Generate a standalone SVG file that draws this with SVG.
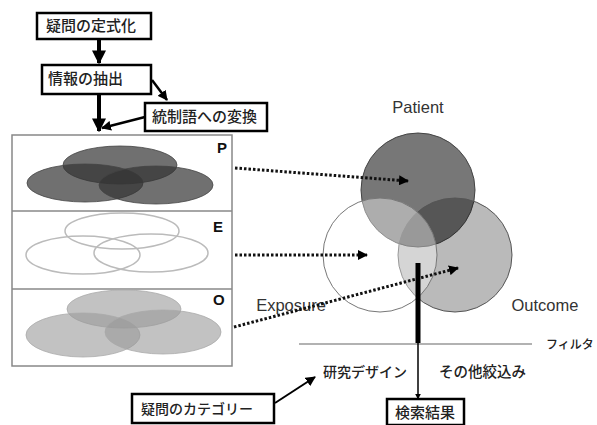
<svg xmlns="http://www.w3.org/2000/svg" width="597" height="425" viewBox="0 0 597 425">
<defs>
<style>
.box{fill:#fff;stroke:#000;stroke-width:2.5}
.jp{font-family:"Noto Sans CJK JP","Noto Sans CJK SC",sans-serif;font-size:15px;fill:#222;font-weight:500}
.en{font-family:"Liberation Sans",Arial,sans-serif;font-size:16.5px;fill:#333}
.lbl{font-family:"Liberation Sans",Arial,sans-serif;font-size:15px;font-weight:bold;fill:#111}
.solid{stroke:#000;fill:none}
.dot{stroke:#111;stroke-width:3;stroke-dasharray:2.5 2;fill:none}
.pe{fill:#333;fill-opacity:0.7;stroke:#444;stroke-width:0.8}
.ee{fill:none;stroke:#bbb;stroke-width:1.5}
.oe{fill:#999;fill-opacity:0.6;stroke:#aaa;stroke-width:0.8}
</style>
<marker id="ah" viewBox="0 0 10 10" refX="9" refY="5" markerWidth="10" markerHeight="10" markerUnits="userSpaceOnUse" orient="auto"><path d="M0,0 L10,5 L0,10 z" fill="#000"/></marker>
<marker id="ahb" viewBox="0 0 10 10" refX="9" refY="5" markerWidth="14" markerHeight="16" markerUnits="userSpaceOnUse" orient="auto"><path d="M0,0 L10,5 L0,10 z" fill="#000"/></marker>
<marker id="ahs" viewBox="0 0 10 10" refX="9" refY="5" markerWidth="6" markerHeight="6" markerUnits="userSpaceOnUse" orient="auto"><path d="M0,0 L10,5 L0,10 z" fill="#000"/></marker>
</defs>
<rect width="597" height="425" fill="#fff"/>

<g id="panel">
<rect x="12" y="135" width="220" height="231" fill="#fff" stroke="#888" stroke-width="1.5"/>
<line x1="12" y1="211" x2="232" y2="211" stroke="#888" stroke-width="1.5"/>
<line x1="12" y1="289" x2="232" y2="289" stroke="#888" stroke-width="1.5"/>
</g>
<g id="P-set">
<ellipse class="pe" cx="120" cy="165" rx="57" ry="19"/>
<ellipse class="pe" cx="85" cy="183" rx="58" ry="19"/>
<ellipse class="pe" cx="156" cy="185" rx="57" ry="19"/>
<text class="lbl" x="217" y="153">P</text>
</g>
<g id="E-set">
<ellipse class="ee" cx="122" cy="231" rx="57" ry="18"/>
<ellipse class="ee" cx="83" cy="255" rx="57" ry="19"/>
<ellipse class="ee" cx="151" cy="253" rx="57" ry="19"/>
<text class="lbl" x="213" y="232">E</text>
</g>
<g id="O-set">
<ellipse class="oe" cx="124" cy="309" rx="57" ry="19"/>
<ellipse class="oe" cx="83" cy="335" rx="57" ry="22"/>
<ellipse class="oe" cx="163" cy="332" rx="58" ry="22"/>
<text class="lbl" x="213" y="305">O</text>
</g>

<g id="venn">
<circle id="patient" cx="418" cy="190" r="57" fill="#777" stroke="#444" stroke-width="1"/>
<circle id="outcome" cx="455" cy="255" r="57" fill="#000" fill-opacity="0.27" stroke="#555" stroke-width="1"/>
<circle id="exposure" cx="380" cy="255" r="57" fill="#fff" fill-opacity="0.4" stroke="#777" stroke-width="1"/>
<text class="en" x="418" y="113" text-anchor="middle">Patient</text>
<text class="en" x="291" y="311" text-anchor="middle">Exposure</text>
<text class="en" x="545" y="311" text-anchor="middle">Outcome</text>
</g>

<g id="n1"><rect class="box" x="37" y="13" width="114" height="26"/><text class="jp" x="46" y="31">疑問の定式化</text></g>
<g id="n2"><rect class="box" x="42" y="65" width="109" height="29"/><text class="jp" x="48" y="84">情報の抽出</text></g>
<g id="n3"><rect class="box" x="145" y="103" width="122" height="28"/><text class="jp" x="152" y="122">統制語への変換</text></g>
<g id="n4"><rect class="box" x="132" y="394" width="142" height="29"/><text class="jp" x="141" y="414" style="font-size:14px">疑問のカテゴリー</text></g>
<g id="n5"><rect class="box" x="387" y="399" width="77" height="26"/><text class="jp" x="425" y="418" text-anchor="middle">検索結果</text></g>
<g id="filter">
<line x1="299" y1="344" x2="532" y2="344" stroke="#999" stroke-width="1.5"/>
<text class="jp" x="546" y="349" style="font-size:12px">フィルタ</text>
<text class="jp" x="323" y="377" style="font-size:14px">研究デザイン</text>
<text class="jp" x="439" y="377" style="font-size:14.5px">その他絞込み</text>
</g>

<g id="connectors">
<line class="solid" x1="99" y1="39" x2="99" y2="63" stroke-width="4" marker-end="url(#ahb)"/>
<line class="solid" x1="99" y1="94" x2="99" y2="131" stroke-width="4" marker-end="url(#ahb)"/>
<line class="solid" x1="152" y1="80" x2="167" y2="100" stroke-width="2.5" marker-end="url(#ah)"/>
<line class="solid" x1="145" y1="117" x2="102" y2="128" stroke-width="2.5" marker-end="url(#ah)"/>
<line class="dot" x1="235" y1="168" x2="408" y2="181" marker-end="url(#ah)"/>
<line class="dot" x1="235" y1="255" x2="367" y2="255" marker-end="url(#ah)"/>
<line class="dot" x1="234" y1="327" x2="458" y2="268" marker-end="url(#ah)"/>
<line class="solid" x1="418" y1="263" x2="418" y2="343" stroke-width="5"/>
<line class="solid" x1="418" y1="342" x2="418" y2="399" stroke-width="1.5" marker-end="url(#ahs)"/>
<line class="solid" x1="275" y1="403" x2="315" y2="377" stroke-width="2" marker-end="url(#ah)"/>
</g>
</svg>
